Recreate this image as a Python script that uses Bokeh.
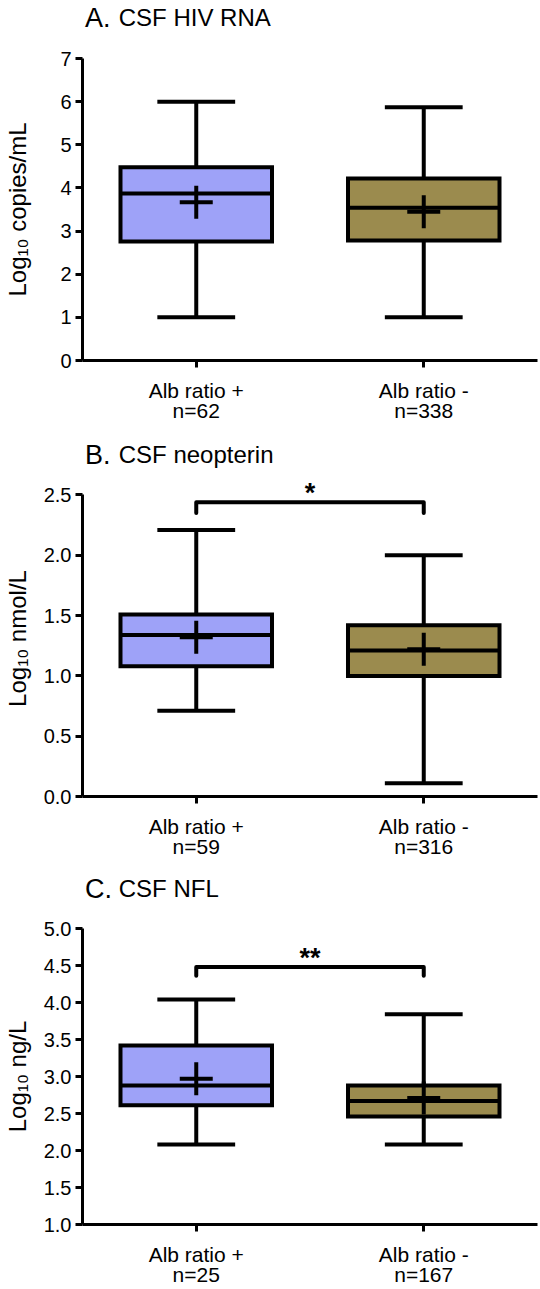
from bokeh.plotting import figure
from bokeh.layouts import column
from bokeh.models import FixedTicker, Range1d
from bokeh.embed import file_html
from bokeh.resources import INLINE
from bokeh.core.properties import value

FONT = "Liberation Sans"
BLUE = "#9EA2F8"
OLIVE = "#9B8B4E"
W = 540

groups = ["Alb ratio +", "Alb ratio -"]
x_pos = [1, 2]

# Panel A: CSF HIV RNA
a_letter, a_title, a_ylabel = "A.", "CSF HIV RNA", "Log\u2081\u2080 copies/mL"
a_n = [62, 338]
a_min = [1.0, 1.0]
a_q1 = [2.76, 2.78]
a_med = [3.87, 3.54]
a_q3 = [4.48, 4.22]
a_max = [6.0, 5.87]
a_mean = [3.67, 3.45]
a_ticks = [0, 1, 2, 3, 4, 5, 6, 7]
a_tick_labels = ["0", "1", "2", "3", "4", "5", "6", "7"]

# Panel B: CSF neopterin
b_letter, b_title, b_ylabel = "B.", "CSF neopterin", "Log\u2081\u2080 nmol/L"
b_n = [59, 316]
b_min = [0.71, 0.11]
b_q1 = [1.08, 1.00]
b_med = [1.34, 1.21]
b_q3 = [1.51, 1.42]
b_max = [2.21, 2.00]
b_mean = [1.32, 1.22]
b_ticks = [0.0, 0.5, 1.0, 1.5, 2.0, 2.5]
b_tick_labels = ["0.0", "0.5", "1.0", "1.5", "2.0", "2.5"]
b_sig = ["*"]
b_sig_y = [2.44]
b_sig_tip = [2.35]

# Panel C: CSF NFL
c_letter, c_title, c_ylabel = "C.", "CSF NFL", "Log\u2081\u2080 ng/L"
c_n = [25, 167]
c_min = [2.08, 2.08]
c_q1 = [2.61, 2.46]
c_med = [2.88, 2.67]
c_q3 = [3.42, 2.88]
c_max = [4.04, 3.84]
c_mean = [2.97, 2.71]
c_ticks = [1.0, 1.5, 2.0, 2.5, 3.0, 3.5, 4.0, 4.5, 5.0]
c_tick_labels = ["1.0", "1.5", "2.0", "2.5", "3.0", "3.5", "4.0", "4.5", "5.0"]
c_sig = ["**"]
c_sig_y = [4.48]
c_sig_tip = [4.36]

colors = [BLUE, OLIVE]
BOX_HALF = 0.333
CAP_HALF = 0.171
TEXT_SHIFT = -9  # svg text sits lower than its nominal baseline


def title_fig(letter, title, height, baseline):
    t = figure(width=W, height=height, x_range=Range1d(0, W),
               y_range=Range1d(0, height), output_backend="svg",
               toolbar_location=None, x_axis_type=None, y_axis_type=None,
               min_border=0, outline_line_color=None)
    t.xgrid.visible = False
    t.ygrid.visible = False
    t.text(x=[3], y=[baseline], text=[letter], text_font=value(FONT),
           text_font_size="27px", text_baseline="alphabetic",
           text_color="black", y_offset=TEXT_SHIFT)
    t.text(x=[43], y=[baseline], text=[title], text_font=value(FONT),
           text_font_size="24px", text_baseline="alphabetic",
           text_color="black", y_offset=TEXT_SHIFT)
    return t


def panel(ylabel, n, vmin, q1, med, q3, vmax, mean, ticks, tick_labels,
          yr, ybounds, height, btop, bbottom, ylab_standoff,
          sig=None, sig_y=None, sig_tip=None):
    p = figure(width=W, height=height, x_range=Range1d(0.5, 2.5),
               y_range=Range1d(*yr), output_backend="svg",
               toolbar_location=None, min_border_left=81, min_border_right=3,
               min_border_top=btop, min_border_bottom=bbottom,
               outline_line_color=None)
    p.xgrid.visible = False
    p.ygrid.visible = False

    for ax in (p.xaxis[0], p.yaxis[0]):
        ax.axis_line_width = 3
        ax.axis_line_color = "black"
        ax.major_tick_line_width = 3
        ax.major_tick_line_color = "black"
        ax.major_tick_out = 7
        ax.major_tick_in = 0
        ax.minor_tick_line_color = None
        ax.major_label_text_font = FONT
        ax.major_label_text_font_size = "20px"
        ax.major_label_text_color = "black"
        ax.major_label_standoff = 4

    p.xaxis.ticker = FixedTicker(ticks=x_pos)
    p.xaxis.major_label_overrides = {
        x: f"{g}\nn={k}" for x, g, k in zip(x_pos, groups, n)}
    p.xaxis.major_label_text_font_size = "21px"
    p.xaxis.major_label_text_line_height = 0.9
    p.xaxis.major_label_standoff = 11
    p.yaxis.ticker = FixedTicker(ticks=ticks)
    p.yaxis.major_label_overrides = dict(zip(ticks, tick_labels))
    p.yaxis.bounds = ybounds
    p.yaxis.axis_label = ylabel
    p.yaxis.axis_label_text_font = FONT
    p.yaxis.axis_label_text_font_size = "24px"
    p.yaxis.axis_label_text_font_style = "normal"
    p.yaxis.axis_label_text_color = "black"
    p.yaxis.axis_label_standoff = ylab_standoff

    lw = 4
    p.segment(x0=x_pos, y0=q3, x1=x_pos, y1=vmax, line_width=lw, line_color="black")
    p.segment(x0=x_pos, y0=vmin, x1=x_pos, y1=q1, line_width=lw, line_color="black")
    p.segment(x0=[x - CAP_HALF for x in x_pos], y0=vmax,
              x1=[x + CAP_HALF for x in x_pos], y1=vmax, line_width=lw, line_color="black")
    p.segment(x0=[x - CAP_HALF for x in x_pos], y0=vmin,
              x1=[x + CAP_HALF for x in x_pos], y1=vmin, line_width=lw, line_color="black")
    p.quad(left=[x - BOX_HALF for x in x_pos], right=[x + BOX_HALF for x in x_pos],
           bottom=q1, top=q3, fill_color=colors, line_color="black", line_width=lw,
           line_join="miter")
    p.segment(x0=[x - BOX_HALF for x in x_pos], y0=med,
              x1=[x + BOX_HALF for x in x_pos], y1=med, line_width=lw, line_color="black")
    p.scatter(x=x_pos, y=mean, marker="cross", size=33, line_width=lw,
              line_color="black")

    if sig is not None:
        p.multi_line(xs=[[x_pos[0], x_pos[0], x_pos[1], x_pos[1]]],
                     ys=[[sig_tip[0], sig_y[0], sig_y[0], sig_tip[0]]],
                     line_width=lw, line_color="black", line_cap="round",
                     line_join="round")
        p.text(x=[(x_pos[0] + x_pos[1]) / 2], y=sig_y, text=sig,
               text_font=value(FONT), text_font_size="27px",
               text_font_style="bold", text_align="center",
               text_baseline="alphabetic", text_color="black",
               y_offset=TEXT_SHIFT)
    return p


tA = title_fig(a_letter, a_title, 40, 14)
pA = panel(a_ylabel, a_n, a_min, a_q1, a_med, a_q3, a_max, a_mean,
           a_ticks, a_tick_labels, (0, 7), (0, 7), 385, 18, 64, 26)
tB = title_fig(b_letter, b_title, 45, 7)
pB = panel(b_ylabel, b_n, b_min, b_q1, b_med, b_q3, b_max, b_mean,
           b_ticks, b_tick_labels, (0, 2.62), (0, 2.5), 395, 10, 69, 10,
           b_sig, b_sig_y, b_sig_tip)
tC = title_fig(c_letter, c_title, 40, 8)
pC = panel(c_ylabel, c_n, c_min, c_q1, c_med, c_q3, c_max, c_mean,
           c_ticks, c_tick_labels, (1, 5), (1, 5), 384, 23, 57, 10,
           c_sig, c_sig_y, c_sig_tip)

layout = column(tA, pA, tB, pB, tC, pC, spacing=0)
open("out.html", "w").write(file_html(layout, INLINE))
